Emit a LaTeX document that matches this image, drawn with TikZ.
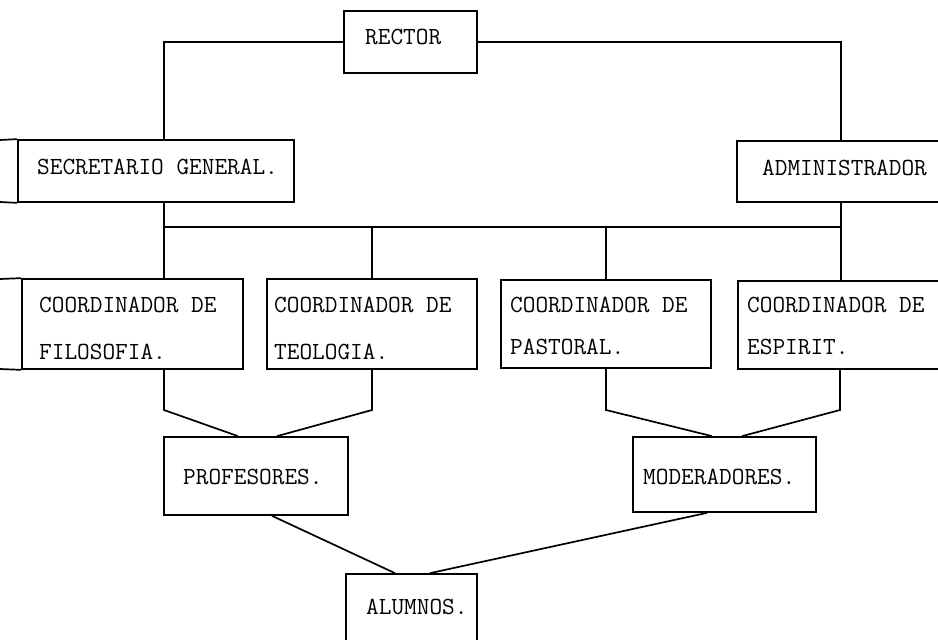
\documentclass[tikz,border=0pt]{standalone}
\usetikzlibrary{calc}
\begin{document}
\begin{tikzpicture}[x=1pt,y=-1pt,
  box/.style={draw, line width=1.7pt, rectangle, inner sep=0pt},
  ln/.style={line width=1.7pt},
  lbl/.style={anchor=west, inner sep=0pt, font=\fontsize{24.6}{28}\selectfont\ttfamily}]
\useasboundingbox (0,0) rectangle (938,640);
\clip (0,0) rectangle (938,640);
% boxes
\node[box, minimum width=133pt, minimum height=62pt] (rector) at (410.5,42) {};
\node[box, minimum width=276pt, minimum height=62pt] (secr) at (156,171) {};
\node[box, minimum width=253pt, minimum height=61pt] (admin) at (863.5,171.5) {};
\node[box, minimum width=221pt, minimum height=90pt] (filo) at (132.5,324) {};
\node[box, minimum width=210pt, minimum height=90pt] (teol) at (372,324) {};
\node[box, minimum width=210pt, minimum height=88pt] (past) at (606,324) {};
\node[box, minimum width=252pt, minimum height=88pt] (espi) at (864,325) {};
\node[box, minimum width=184pt, minimum height=78pt] (prof) at (256,476) {};
\node[box, minimum width=183pt, minimum height=75pt] (mode) at (724.5,474.5) {};
\node[box, minimum width=131pt, minimum height=86pt] (alum) at (411.5,617) {};
% labels
\node[lbl] (trector) at (365,37) {RECTOR};
\node[lbl] (tsecr) at (37,167) {SECRETARIO GENERAL.};
\node[lbl] (tadmin) at (762,168) {ADMINISTRADOR};
\node[lbl] (tfilo1) at (39,305) {COORDINADOR DE};
\node[lbl] (tfilo2) at (39,352) {FILOSOFIA.};
\node[lbl] (tteol1) at (274,305) {COORDINADOR DE};
\node[lbl] (tteol2) at (274,352) {TEOLOGIA.};
\node[lbl] (tpast1) at (510,305) {COORDINADOR DE};
\node[lbl] (tpast2) at (510,347) {PASTORAL.};
\node[lbl] (tespi1) at (747,305) {COORDINADOR DE};
\node[lbl] (tespi2) at (747,347) {ESPIRIT.};
\node[lbl] (tprof) at (183,477) {PROFESORES.};
\node[lbl] (tmode) at (643,477) {MODERADORES.};
\node[lbl] (talum) at (366,607) {ALUMNOS.};
% helper coordinates
\coordinate (sx) at (164,0);
\coordinate (ax) at (841,0);
\coordinate (busL) at (164,227);
\coordinate (busR) at (841,227);
\coordinate (fk) at (164,410);
\coordinate (ek) at (840,410);
\coordinate (l1) at (0,140);
\coordinate (l2) at (0,202);
\coordinate (l3) at (0,279);
\coordinate (l4) at (0,369);
% stubs on the left
\draw[ln] (l1) -- (secr.north west);
\draw[ln] (l2) -- (secr.south west);
\draw[ln] (l3) -- (filo.north west);
\draw[ln] (l4) -- (filo.south west);
% connectors
\draw[ln] (rector.west) -| (secr.north -| sx);
\draw[ln] (rector.east) -| (admin.north -| ax);
\draw[ln] (secr.south -| sx) -- (filo.north -| sx);
\draw[ln] (busL) -- (busR);
\draw[ln] (admin.south -| ax) -- (espi.north -| ax);
\draw[ln] (teol.north) -- (teol.north |- busL);
\draw[ln] (past.north) -- (past.north |- busL);
\draw[ln] (filo.south -| fk) -- (fk) -- ([xshift=-18pt]prof.north);
\draw[ln] (teol.south) -- (teol.south |- fk) -- ([xshift=21pt]prof.north);
\draw[ln] (past.south) -- (past.south |- fk) -- ([xshift=-12.5pt]mode.north);
\draw[ln] (espi.south -| ek) -- (ek) -- ([xshift=17.5pt]mode.north);
\draw[ln] ([xshift=16pt]prof.south) -- ([xshift=-16.5pt]alum.north);
\draw[ln] ([xshift=-17.5pt]mode.south) -- ([xshift=18.5pt]alum.north);
\end{tikzpicture}
\end{document}
